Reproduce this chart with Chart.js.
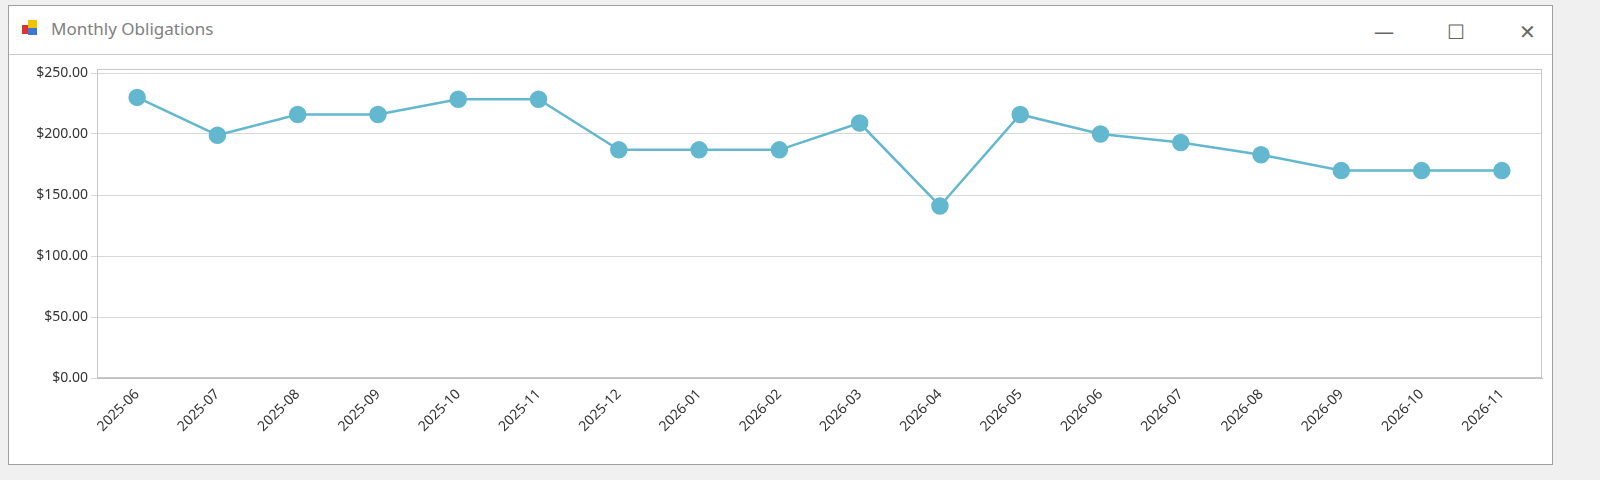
<!DOCTYPE html>
<html>
<head>
<meta charset="utf-8">
<script src="https://cdn.jsdelivr.net/npm/chart.js@4/dist/chart.umd.min.js"></script>
<style>
  body { margin: 0; width: 1600px; height: 480px; background: #f0f0f0; position: relative; overflow: hidden; font-family: "Noto Sans", sans-serif; }
  #win { position: absolute; left: 8px; top: 5px; width: 1545px; height: 460px; background: #fff; border: 1px solid #a0a0a0; box-sizing: border-box; }
  #title { position: absolute; left: 0; top: 0; right: 0; height: 48px; border-bottom: 1px solid #c8c8c8; }
  #title .icon { position: absolute; left: 12px; top: 13px; width: 18px; height: 18px; }
  #title .text { position: absolute; left: 42px; top: 11px; font-size: 17px; color: #808080; }
  #title .btn { position: absolute; top: 12px; font-size: 20px; color: #666; }
  #chartBox { position: absolute; left: 0; top: 48px; width: 1543px; height: 410px; }
</style>
</head>
<body>
<div id="win">
  <div id="title">
    <svg class="icon" viewBox="0 0 18 18">
      <rect x="1" y="6" width="9" height="9" fill="#d33"/>
      <rect x="7" y="1" width="9" height="8" fill="#f2c200"/>
      <rect x="7" y="9" width="9" height="7" fill="#3a78d8"/>
    </svg>
    <div class="text">Monthly Obligations</div>
    <div class="btn" style="left:1365px">&#8212;</div>
    <div class="btn" style="left:1438px">&#9744;</div>
    <div class="btn" style="left:1510px">&#10005;</div>
  </div>
  <div id="chartBox"><canvas id="c"></canvas></div>
</div>
<script>
const months = ['2025-06','2025-07','2025-08','2025-09','2025-10','2025-11','2025-12','2026-01','2026-02',
  '2026-03','2026-04','2026-05','2026-06','2026-07','2026-08','2026-09','2026-10','2026-11'];
const obligations = [230, 199, 216, 216, 228.5, 228.5, 187, 187, 187, 209, 141, 216, 200, 193, 183, 170, 170, 170];

const lineColor = '#63b7cf';

new Chart(document.getElementById('c'), {
  type: 'line',
  data: {
    labels: months,
    datasets: [{
      data: obligations,
      borderColor: lineColor,
      backgroundColor: lineColor,
      borderWidth: 2.5,
      pointRadius: 7.5,
      pointHoverRadius: 7.5,
      tension: 0
    }]
  },
  options: {
    responsive: true,
    maintainAspectRatio: false,
    animation: false,
    layout: { padding: { top: 19, right: 2, bottom: 0, left: 0 } },
    plugins: { legend: { display: false }, tooltip: { enabled: false } },
    scales: {
      x: {
        offset: true,
        grid: { display: false, drawTicks: true, tickLength: 5 },
        border: { color: '#c0c0c0' },
        ticks: { color: '#333', font: { family: 'Noto Sans', size: 14 }, maxRotation: 45, minRotation: 45, autoSkip: false },
        afterFit: s => { s.height = 86; }
      },
      y: {
        min: 0, max: 250,
        ticks: { stepSize: 50, color: '#333', font: { family: 'Noto Sans', size: 14 },
          callback: v => '$' + v.toFixed(2) },
        grid: { color: '#d9d9d9', tickLength: 6 },
        border: { color: '#c0c0c0' },
        afterFit: s => { s.width = 88; }
      }
    }
  },
  plugins: [{
    id: 'frame',
    afterDraw(chart) {
      const { ctx, chartArea: a } = chart;
      ctx.save();
      ctx.strokeStyle = '#c8c8c8';
      ctx.lineWidth = 1;
      ctx.strokeRect(a.left + 0.5, a.top - 3.5, a.right - a.left - 1, a.bottom - a.top + 3);
      ctx.restore();
    }
  }]
});
</script>
</body>
</html>
